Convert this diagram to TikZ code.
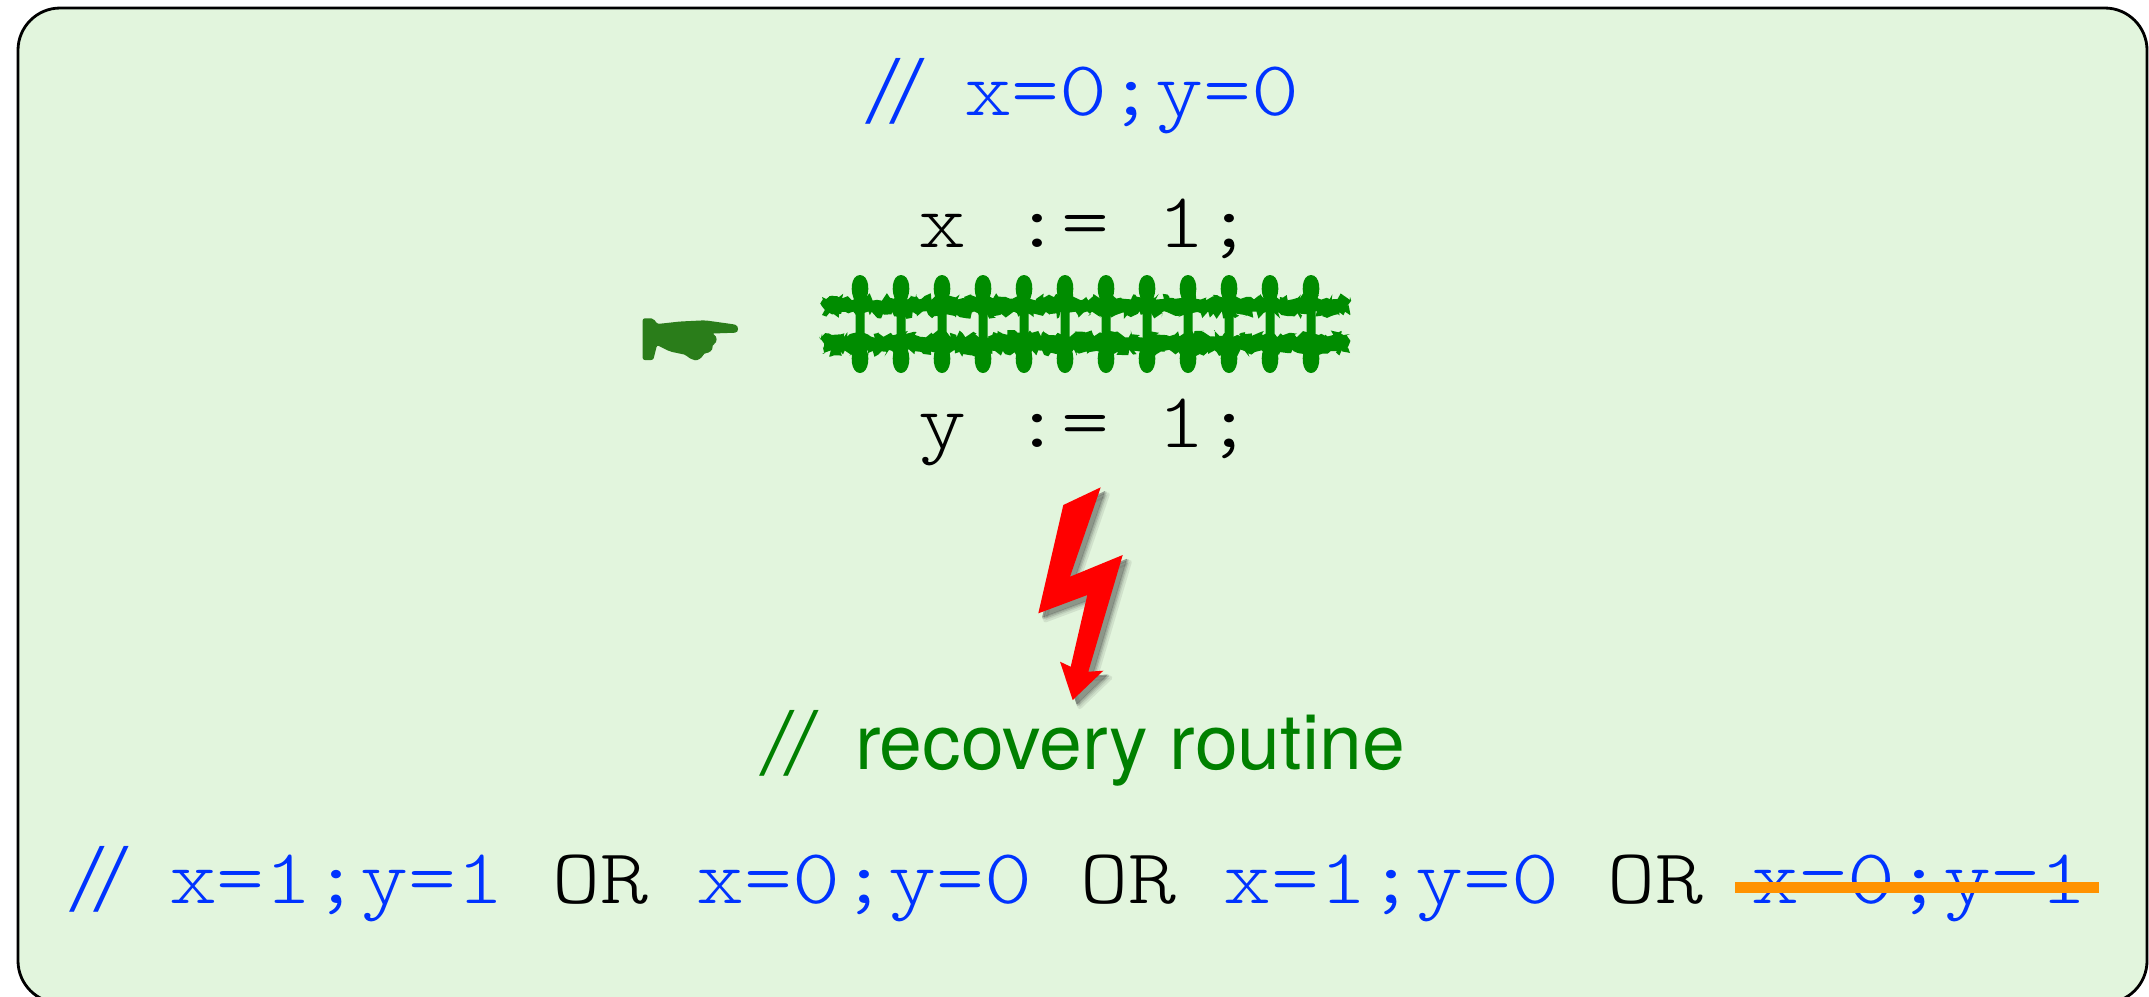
\documentclass[tikz,border=0pt]{standalone}
\usepackage{fontspec}
\usetikzlibrary{decorations.pathmorphing}

\newfontfamily\codefont{lmmonolt10-regular.otf}[FakeStretch=1.17]
\newfontfamily\helvfont{TeX Gyre Heros}
\newfontfamily\slashfont{TeX Gyre Heros}[FakeSlant=0.15]

\definecolor{panelGreen}{RGB}{226,245,221}
\definecolor{codeBlue}{RGB}{0,51,255}
\definecolor{commentGreen}{RGB}{0,128,0}
\definecolor{fenceGreen}{RGB}{0,140,0}
\definecolor{handGreen}{RGB}{42,125,26}
\definecolor{strikeOrange}{RGB}{255,146,0}
\definecolor{boltRed}{RGB}{255,0,0}

\tikzset{
  code/.style={anchor=base west, inner sep=0pt, outer sep=0pt,
    font=\codefont\fontsize{22.2}{26}\selectfont},
  slashes/.style={anchor=base west, inner sep=0pt, outer sep=0pt,
    font=\slashfont\fontsize{25}{30}\selectfont},
  comment/.style={anchor=base west, inner sep=0pt, outer sep=0pt,
    font=\helvfont\fontsize{21.9}{26}\selectfont, text=commentGreen},
  panel/.style={draw=black, line width=0.8pt, fill=panelGreen, rounded corners=12pt},
  rail/.style={fill=fenceGreen, decorate,
    decoration={random steps, segment length=0.8pt, amplitude=1.1pt}},
  post/.style={fill=fenceGreen},
}

\begin{document}
\begin{tikzpicture}[x=0.01cm, y=-0.01cm]
  \useasboundingbox (0,0) rectangle (2149,996);
  \fill[white] (0,0) rectangle (2149,996);
  \begin{scope}
    \clip (0,0) rectangle (2149,996);
    \draw[panel] (18,8) rectangle (2147,1003);
  \end{scope}

  % initial state
  \node[slashes, text=codeBlue] (initSl) at (866,122) {//};
  \node[code, text=codeBlue] (init) at (964,115) {x=0;y=0};

  % the two stores
  \node[code] (storeX) at (918,247) {x := 1;};
  \node[code] (storeY) at (918,447) {y := 1;};

  % fence between the stores: two rough rails and twelve posts
  \pgfmathsetseed{7}
  \fill[rail] (822,297) rectangle (1350,315);
  \fill[rail] (822,334) rectangle (1350,353);
  \foreach \i in {0,...,11}{
    \pgfmathsetmacro{\px}{860+41*\i}
    \fill[post] (\px-4.5,302) .. controls (\px-11,292) and (\px-9,275) .. (\px,275)
      .. controls (\px+9,275) and (\px+11,292) .. (\px+4.5,302)
      -- (\px+4.5,345) .. controls (\px+11,355) and (\px+9,373) .. (\px,373)
      .. controls (\px-9,373) and (\px-11,355) .. (\px-4.5,345) -- cycle;
  }

  % pointing hand
  \fill[handGreen, rounded corners=0.6pt]
    (642.7,318.3) -- (653.3,318.3) -- (657.3,324) -- (680,321.5) -- (705,320.3)
    -- (733,324.2) .. controls (739,325.5) and (739,332.5) .. (733,332.8)
    -- (712,333.5) .. controls (717,336) and (718,342) .. (712,345.5)
    .. controls (713,350) and (709,353) .. (704,353.2)
    .. controls (702,358) and (697,361) .. (693,359.5)
    .. controls (690,358.5) and (688,357) .. (686.5,355)
    -- (670,351.5) -- (657,345) -- (653.3,360) -- (642.7,360) -- cycle;

  % lightning bolt with a soft drop shadow
  \def\boltpath{(1063.3,505) -- (1100.7,487.3) -- (1070,576.7) -- (1122.7,555)
    -- (1088.3,671.7) -- (1103.3,670.7) -- (1072.7,700) -- (1060,661.7)
    -- (1070.7,666.7) -- (1087.3,595) -- (1038.3,613.3) -- cycle}
  \foreach \d/\w/\o in {7/1.2/0.10, 5/0.6/0.18, 4/0.1/0.30}{
    \begin{scope}[shift={(\d,\d)}]
      \filldraw[black!80, opacity=\o, line width=\w pt, line join=round] \boltpath;
    \end{scope}
  }
  \fill[boltRed] \boltpath;

  % recovery comment
  \node[slashes, text=commentGreen] (recSl) at (760,774) {//};
  \node[comment] (rec) at (855,769) {recovery routine};

  % possible outcomes
  \node[slashes, text=codeBlue] (outSl) at (70,910) {//};
  \node[code] (outcomes) at (169,903)
    {{\color{codeBlue}x=1;y=1} OR {\color{codeBlue}x=0;y=0} OR {\color{codeBlue}x=1;y=0} OR {\color{codeBlue}x=0;y=1}};
  \coordinate (strikeL) at (1735,887.5);
  \coordinate (strikeR) at (2099,887.5);
  \draw[strikeOrange, line width=3.1pt] (strikeL) -- (strikeR);
\end{tikzpicture}
\end{document}
